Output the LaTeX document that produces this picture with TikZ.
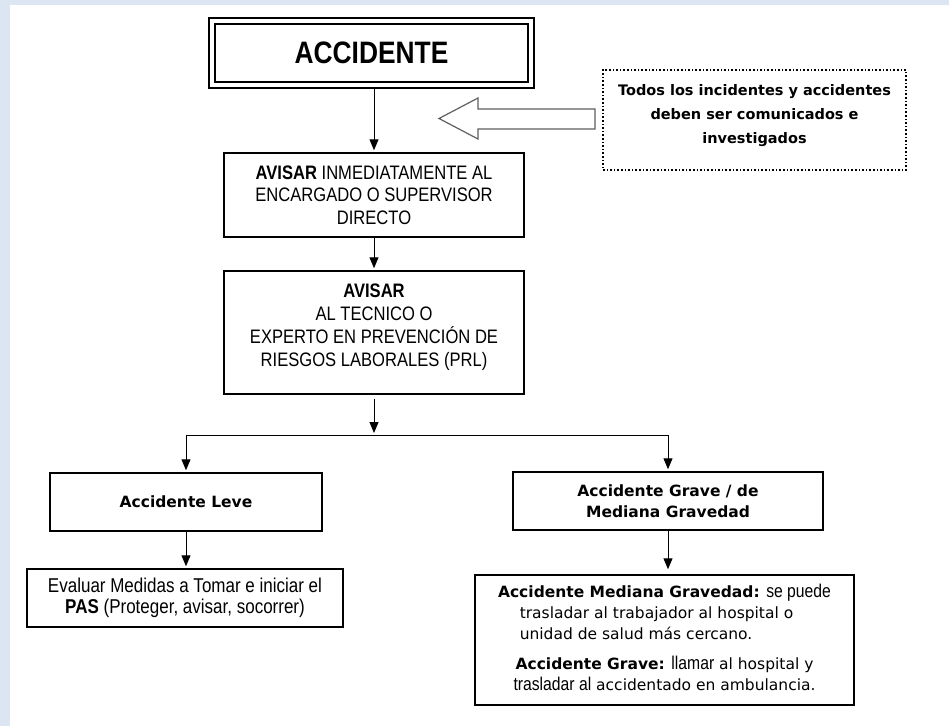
\documentclass[tikz,border=0pt]{standalone}
\usepackage{fontspec}
\setmainfont{Liberation Sans}
\newfontfamily\narrowfont{Liberation Sans}[FakeStretch=0.85]
\newfontfamily\roundfont{DejaVu Sans}
\usetikzlibrary{positioning,arrows.meta}
\definecolor{framebg}{RGB}{220,230,242}
\definecolor{arrowgray}{RGB}{95,95,95}

\begin{document}
\begin{tikzpicture}[x=1pt, y=-1pt,
      block/.style={rectangle, draw, line width=1.5pt, align=center, inner sep=0pt},
      doublebox/.style={block, line width=1.3pt, path picture={
          \draw[line width=2.6pt] ([shift={(6pt,-6pt)}]path picture bounding box.north west)
            rectangle ([shift={(-6pt,6pt)}]path picture bounding box.south east);}},
      notebox/.style={rectangle, draw, dotted, line width=1.6pt, align=center, inner sep=0pt},
      line/.style={draw, line width=1pt, -{Triangle[length=11pt,width=9pt]}, shorten >=2pt},
      capsfont/.style={font=\narrowfont\fontsize{19.5}{22.5}\selectfont},
      roundtext/.style={font=\roundfont\fontsize{15.5}{21}\selectfont}
    ]

    % background frame
    \fill[framebg] (0,0) rectangle (949,726);
    \fill[white] (10,5) rectangle (949,726);

    \node [doublebox, minimum width=325, minimum height=70,
           font=\narrowfont\bfseries\fontsize{31}{36}\selectfont] (acc) at (371.5,53) {ACCIDENTE};
    \node [block, capsfont, minimum width=300, minimum height=84] (aviso1) at (374,195)
      {\textbf{AVISAR} INMEDIATAMENTE AL\\ ENCARGADO O SUPERVISOR\\ DIRECTO};
    \node [block, capsfont, minimum width=300, minimum height=123,
           font=\narrowfont\fontsize{19.5}{23}\selectfont] (aviso2) at (374,332.5)
      {\textbf{AVISAR}\\ AL TECNICO O\\ EXPERTO EN PREVENCIÓN DE\\ RIESGOS LABORALES (PRL)\\[-8pt]};
    \node [notebox, minimum width=303, minimum height=100,
           font=\roundfont\bfseries\fontsize{14.5}{24}\selectfont] (nota) at (754.5,120)
      {Todos los incidentes y accidentes\\ deben ser comunicados e\\ investigados\\[-12pt]};

    \node [block, roundtext, minimum width=272, minimum height=58] (leve) at (186,502)
      {\textbf{Accidente Leve}};
    \node [block, roundtext, minimum width=310, minimum height=58] (grave) at (668,501)
      {\textbf{Accidente Grave / de}\\ \textbf{Mediana Gravedad}};
    \node [block, font=\narrowfont\fontsize{20}{21}\selectfont, minimum width=316, minimum height=58] (evaluar) at (185,598)
      {Evaluar Medidas a Tomar e iniciar el\\ \textbf{PAS} (Proteger, avisar, socorrer)};
    \node [block, roundtext, minimum width=379, minimum height=130] (medidas) at (664.5,640)
      {\begin{tabular}{@{}c@{}}
         \textbf{Accidente Mediana Gravedad:} {\narrowfont\fontsize{18.5}{21}\selectfont se puede}\\
         \begin{tabular}{@{}l@{}}trasladar al trabajador al hospital o\\ unidad de salud más cercano.\end{tabular}\hspace*{16pt}\\
         \rule{0pt}{24pt}\textbf{Accidente Grave:} {\narrowfont\fontsize{18.5}{21}\selectfont llamar} al hospital y\\
         {\narrowfont\fontsize{18.5}{21}\selectfont trasladar al} accidentado en ambulancia.
       \end{tabular}};

    % hollow arrow pointing to the flow
    \draw[arrowgray, line width=1.2pt, fill=white] (595,109) -- (478,109) -- (478,98) -- (439,118.5)
      -- (478,139) -- (478,129) -- (595,129) -- cycle;

    \coordinate (split) at (374,435);

    \path [line] (acc.south -| aviso1.north) -- (aviso1.north);
    \path [line] (aviso1) -- (aviso2);
    \path [line, shorten <=4pt] (aviso2.south) -- (split);
    \path [line] (split) -| (leve.north);
    \path [line] (split) -| (grave.north);
    \path [line] (leve.south) -- (leve.south |- evaluar.north);
    \path [line, shorten >=5pt] (grave.south) -- (grave.south |- medidas.north);

\end{tikzpicture}
\end{document}
